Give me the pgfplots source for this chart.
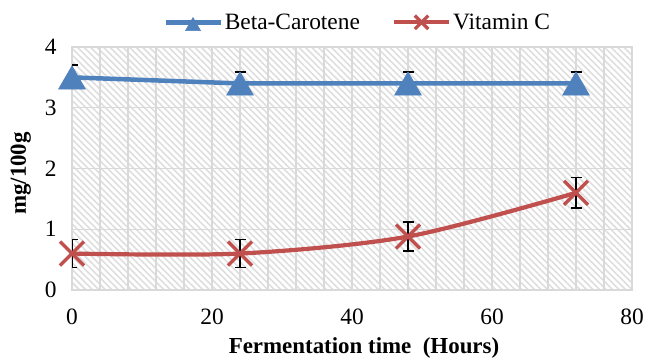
\documentclass[border=0pt]{standalone}
\usepackage{fontspec}
\setmainfont{Liberation Serif}
\usepackage{pgfplots}
\pgfplotsset{compat=1.18}
\usetikzlibrary{patterns.meta}
\definecolor{bcblue}{HTML}{4F81BD}
\definecolor{vcred}{HTML}{C0504D}
\definecolor{gridgray}{HTML}{D9D9D9}
\definecolor{hatchgray}{HTML}{DEDEDE}
\begin{document}
\begin{tikzpicture}
\begin{axis}[
  at={(0,0)}, anchor=south west,
  scale only axis, width=560bp, height=243bp,
  xmin=0, xmax=80, ymin=0, ymax=4,
  xtick={0,20,...,80}, minor xtick={0,4,...,80},
  ytick={0,1,2,3,4},
  grid=both,
  major grid style={gridgray, line width=1.3bp},
  minor grid style={gridgray, line width=1.3bp},
  major tick length=0pt, minor tick length=0pt,
  axis line style={gridgray, line width=1.3bp},
  axis background/.style={pattern={Lines[angle=-45,distance=4.6bp,line width=1.6bp]}, pattern color=hatchgray},
  /pgf/number format/assume math mode=true,
  tick label style={font=\fontsize{23.5}{28}\selectfont, black},
  xticklabel style={yshift=-15bp},
  yticklabel style={xshift=-12bp},
  xlabel={\textbf{Fermentation time\ \ (Hours)}},
  ylabel={\textbf{mg/100g}},
  label style={font=\fontsize{23}{28}\selectfont},
  xlabel style={xshift=12bp, yshift=-6bp},
  ylabel style={yshift=7bp, xshift=-5bp},
  legend style={at={(0.51,1)}, anchor=south, yshift=12bp, draw=none, fill=none, legend columns=2,
    font=\fontsize{23.5}{28}\selectfont,
    /tikz/every even column/.append style={column sep=30bp}},
  legend image code/.code={\draw[mark repeat=2, mark phase=2, #1, every mark/.append style={scale=0.56}]
     plot coordinates {(0bp,0bp) (27.5bp,0bp) (55bp,0bp)};},
]
\addplot[bcblue, line width=4.5bp, mark=triangle*, mark size=15.5bp,
  mark options={solid, fill=bcblue, draw=bcblue, line width=0.5bp, yshift=-3.9bp},
  error bars/.cd, y dir=both, y explicit,
  error bar style={bcblue, line width=1.5bp},
  error mark=-,
  error mark options={rotate=90, black, mark size=5.5bp, line width=1.6bp}]
  coordinates {(0,3.5) += (0,0.2) -= (0,0.05)
               (24,3.4) += (0,0.19) -= (0,0.05)
               (48,3.4) += (0,0.19) -= (0,0.05)
               (72,3.4) += (0,0.19) -= (0,0.05)};
\addlegendentry{Beta-Carotene}
\addplot[vcred, line width=4.2bp, smooth, tension=0.5, mark=x, mark size=17bp,
  mark options={solid, line width=3.3bp},
  error bars/.cd, y dir=both, y explicit,
  error bar style={black, line width=1.6bp},
  error mark=-,
  error mark options={rotate=90, black, mark size=5.5bp, line width=1.6bp}]
  coordinates {(0,0.6) +- (0,0.23)
               (24,0.6) +- (0,0.23)
               (48,0.88) +- (0,0.24)
               (72,1.6) +- (0,0.25)};
\addlegendentry{Vitamin C}
\end{axis}
\pgfresetboundingbox
\useasboundingbox (-72bp,-70bp) rectangle (575bp,290bp);
\end{tikzpicture}
\end{document}
